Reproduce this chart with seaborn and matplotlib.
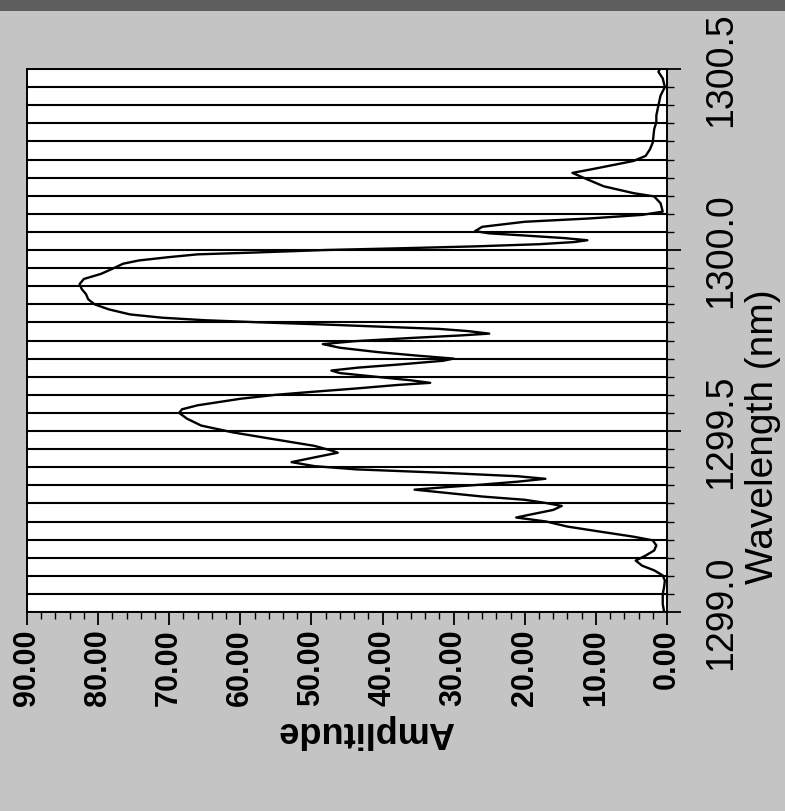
import matplotlib
matplotlib.use("Agg")
import matplotlib.pyplot as plt
import matplotlib.patches as mpatches
from matplotlib.ticker import MultipleLocator
import seaborn as sns
import pandas as pd

# ---------------- data ----------------
wavelength = [
    1299.000, 1299.022, 1299.049, 1299.070, 1299.087, 1299.101, 1299.115, 1299.128,
    1299.142, 1299.156, 1299.170, 1299.184, 1299.198, 1299.208, 1299.222, 1299.236,
    1299.250, 1299.261, 1299.268, 1299.282, 1299.293, 1299.301, 1299.310, 1299.319,
    1299.329, 1299.338, 1299.345, 1299.352, 1299.360, 1299.368, 1299.375, 1299.385,
    1299.394, 1299.403, 1299.414, 1299.427, 1299.440, 1299.445, 1299.459, 1299.478,
    1299.496, 1299.515, 1299.534, 1299.550, 1299.560, 1299.571, 1299.589, 1299.600,
    1299.608, 1299.617, 1299.627, 1299.633, 1299.640, 1299.650, 1299.660, 1299.667,
    1299.675, 1299.684, 1299.694, 1299.700, 1299.708, 1299.718, 1299.730, 1299.740,
    1299.748, 1299.757, 1299.764, 1299.769, 1299.776, 1299.782, 1299.788, 1299.794,
    1299.800, 1299.806, 1299.813, 1299.822, 1299.836, 1299.850, 1299.864, 1299.878,
    1299.892, 1299.906, 1299.920, 1299.934, 1299.948, 1299.962, 1299.971, 1299.980,
    1299.988, 1299.993, 1300.000, 1300.005, 1300.010, 1300.016, 1300.022, 1300.027,
    1300.033, 1300.040, 1300.046, 1300.052, 1300.064, 1300.078, 1300.087, 1300.097,
    1300.106, 1300.129, 1300.148, 1300.157, 1300.176, 1300.195, 1300.213, 1300.223,
    1300.237, 1300.246, 1300.260, 1300.278, 1300.297, 1300.316, 1300.334, 1300.353,
    1300.372, 1300.400, 1300.427, 1300.450, 1300.474, 1300.492, 1300.500,
]
amplitude = [
    0.4, 0.6, 0.6, 0.4, 0.3, 0.6, 1.8, 3.5,
    4.4, 3.0, 1.8, 1.5, 2.0, 4.7, 9.4, 14.0,
    17.0, 21.2, 19.5, 16.0, 14.8, 17.0, 20.0, 26.0,
    31.0, 35.5, 31.0, 26.0, 21.0, 17.1, 21.0, 32.0,
    43.7, 49.6, 52.8, 49.6, 46.3, 47.0, 49.6, 55.5,
    61.0, 65.5, 67.5, 68.6, 68.2, 66.0, 60.0, 55.0,
    50.0, 44.0, 38.0, 33.3, 36.0, 41.0, 46.0, 47.2,
    43.5, 37.5, 31.5, 30.0, 35.0, 40.7, 46.0, 48.4,
    44.0, 36.0, 29.0, 25.0, 28.0, 32.0, 40.0, 48.0,
    57.0, 65.0, 71.0, 75.5, 78.5, 80.5, 81.4, 81.7,
    82.3, 82.6, 82.0, 79.6, 78.0, 76.5, 74.3, 70.2,
    66.0, 58.0, 48.0, 37.0, 27.0, 18.0, 13.0, 11.2,
    14.5, 20.0, 25.0, 27.0, 26.0, 20.0, 11.0, 3.5,
    0.6, 0.9, 1.8, 4.7, 8.9, 11.2, 13.3, 10.6,
    7.0, 4.7, 3.0, 2.4, 2.0, 1.9, 1.8, 1.5,
    1.5, 1.2, 0.9, 0.3, 0.6, 1.2, 1.0,
]
amp_ticks = [0, 10, 20, 30, 40, 50, 60, 70, 80, 90]
amp_tick_labels = ["0.00", "10.00", "20.00", "30.00", "40.00",
                   "50.00", "60.00", "70.00", "80.00", "90.00"]
wl_ticks = [1299.0, 1299.5, 1300.0, 1300.5]
wl_tick_labels = ["1299.0", "1299.5", "1300.0", "1300.5"]

# ---------------- styling ----------------
sns.set_theme(style="white")
plt.rcParams['font.family'] = ['Liberation Sans', 'DejaVu Sans']
plt.rcParams['text.color'] = 'black'
plt.rcParams['axes.labelcolor'] = 'black'
plt.rcParams['xtick.color'] = 'black'
plt.rcParams['ytick.color'] = 'black'

W, H = 785, 812
fig = plt.figure(figsize=(W / 100, H / 100), dpi=100, facecolor='#c4c4c4')
# dark scan band along the top edge
fig.patches.append(mpatches.Rectangle((0, 1 - 12 / H), 1, 12 / H,
                                      transform=fig.transFigure,
                                      facecolor='#5e5e5e', edgecolor='none'))

left, right, top, bottom = 27, 667, 70, 613
ax = fig.add_axes([left / W, 1 - bottom / H, (right - left) / W, (bottom - top) / H])
ax.set_facecolor('white')

df = pd.DataFrame({'Wavelength': wavelength, 'Amplitude': amplitude})
sns.lineplot(data=df, x='Amplitude', y='Wavelength', orient='y', sort=False,
             estimator=None, color='black', linewidth=1.7, ax=ax)

ax.set_xlim(90, 0)
ax.set_ylim(1299.0, 1300.5)

# wavelength grid every 0.05 nm
ax.yaxis.set_minor_locator(MultipleLocator(0.05))
ax.grid(axis='y', which='both', color='black', linewidth=1.5)
ax.grid(axis='x', visible=False)
ax.set_axisbelow(True)

for s in ax.spines.values():
    s.set_color('black')
    s.set_linewidth(1.4)

# amplitude axis (bottom)
ax.set_xticks(amp_ticks, amp_tick_labels, rotation=90, fontsize=22, fontweight='bold')
ax.xaxis.set_minor_locator(MultipleLocator(2))
ax.tick_params(axis='x', which='major', direction='out', length=9, width=1.3,
               color='black', pad=3, bottom=True)
ax.tick_params(axis='x', which='minor', direction='out', length=5, width=1.0,
               color='black', bottom=True)
ax.set_xlabel('Amplitude', fontsize=26, rotation=180, fontweight='bold')
ax.xaxis.set_label_coords((366 - left) / (right - left), (bottom - 714) / (bottom - top))

# wavelength axis (right)
ax.yaxis.tick_right()
ax.yaxis.set_label_position('right')
ax.set_yticks(wl_ticks, wl_tick_labels, rotation=90, fontsize=27, va='center')
ax.tick_params(axis='y', which='major', direction='out', length=10, width=1.3,
               color='black', pad=16, right=True, left=False)
ax.tick_params(axis='y', which='minor', direction='out', length=5, width=1.0,
               color='black', right=True, left=False)
ax.set_ylabel('Wavelength (nm)', fontsize=28, rotation=90)
ax.yaxis.set_label_coords((745 - left) / (right - left), (bottom - 437) / (bottom - top))

fig.savefig('out.png', dpi=100, facecolor=fig.get_facecolor())
